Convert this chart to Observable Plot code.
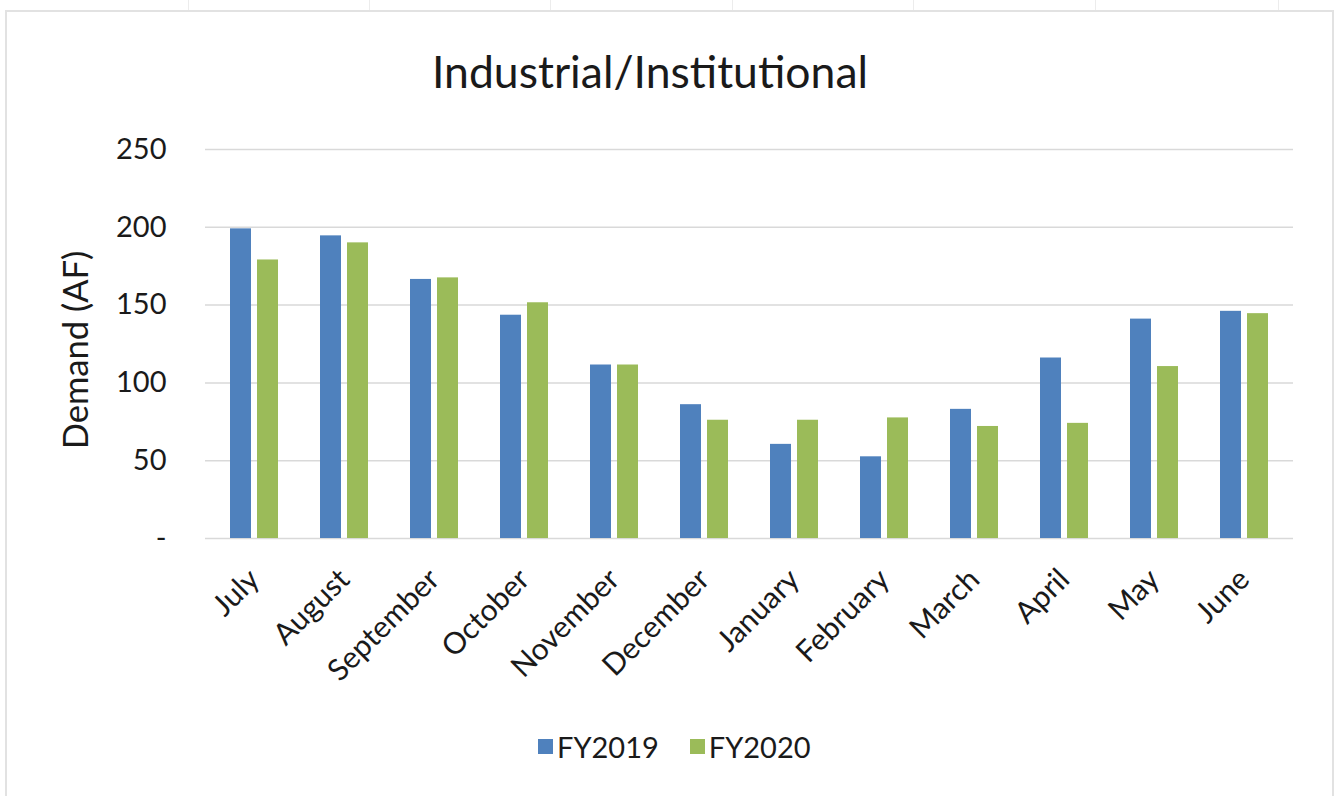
<!DOCTYPE html>
<html>
<head>
<meta charset="utf-8">
<script src="https://cdn.jsdelivr.net/npm/d3@7"></script>
<script src="https://cdn.jsdelivr.net/npm/@observablehq/plot@0.6"></script>
<style>
  html, body { margin: 0; padding: 0; background: #fff; }
  #wrap { position: relative; width: 1338px; height: 796px; overflow: hidden; font-family: Lato, "Open Sans", sans-serif; color: #1a1a1a; }
  #frame { position: absolute; left: 5px; top: 10px; width: 1325px; height: 800px; border: 2px solid #e2e2e2; border-bottom: none; }
  .cell { position: absolute; top: 0; width: 1px; height: 10px; background: #ececec; }
  #title { position: absolute; left: 0; top: 48px; width: 1300px; text-align: center; font-size: 44.5px; line-height: 45px; }
  #chart { position: absolute; left: 0; top: 110px; }
  #legend { position: absolute; left: 538px; top: 732px; display: flex; align-items: center; font-size: 29px; line-height: 29px; }
  .sw { width: 15px; height: 15px; margin-right: 4px; }
  .item { display: flex; align-items: center; margin-right: 31px; }
</style>
</head>
<body>
<div id="wrap">
  <div id="frame"></div>
  <div id="title">Industrial/Institutional</div>
  <div id="chart"></div>
  <div id="legend"></div>
</div>
<script>
const months = ["July", "August", "September", "October", "November", "December", "January", "February", "March", "April", "May", "June"];
const fy2019 = [199, 194.5, 166.5, 143.5, 111.5, 86, 60.5, 52.5, 83, 116, 141, 146];
const fy2020 = [179, 190, 167.5, 151.5, 111.5, 76, 76, 77.5, 72, 74, 110.5, 144.5];
const seriesNames = ["FY2019", "FY2020"];
const seriesColors = ["#4F81BD", "#9BBB59"];
const yTicks = [0, 50, 100, 150, 200, 250];
const cellMarks = [188, 369, 550, 732, 913, 1095, 1278];

const wrap = document.getElementById("wrap");
cellMarks.forEach(x => {
  const c = document.createElement("div");
  c.className = "cell";
  c.style.left = x + "px";
  wrap.appendChild(c);
});

const data = months.flatMap((m, i) => [
  {month: m, series: seriesNames[0], value: fy2019[i]},
  {month: m, series: seriesNames[1], value: fy2020[i]}
]);

const chart = Plot.plot({
  width: 1338,
  height: 590,
  marginLeft: 205,
  marginRight: 45,
  marginTop: 39,
  marginBottom: 162,
  style: {fontFamily: "Lato, 'Open Sans', sans-serif", background: "transparent", color: "#1a1a1a"},
  x: {domain: months, paddingInner: 0.47, paddingOuter: 0.235, label: null},
  y: {domain: [0, 250], label: null},
  color: {domain: seriesNames, range: seriesColors},
  marks: [
    Plot.ruleY(yTicks, {stroke: "#d9d9d9", strokeWidth: 1.5}),
    Plot.barY(data.filter(d => d.series === seriesNames[0]), {x: "month", y: "value", fill: "series", insetRight: 27}),
    Plot.barY(data.filter(d => d.series === seriesNames[1]), {x: "month", y: "value", fill: "series", insetLeft: 27}),
    Plot.axisY(yTicks, {tickSize: 0, tickPadding: 39, tickFormat: d => d === 0 ? "-" : String(d), fontSize: 29, color: "#1a1a1a", label: null}),
    Plot.axisX({tickSize: 0, tickRotate: -45, tickPadding: 36, fontSize: 30, color: "#1a1a1a", label: null}),
    Plot.text(["Demand (AF)"], {frameAnchor: "left", textAnchor: "middle", rotate: -90, dx: -129, dy: 6, fontSize: 34.5, fill: "#1a1a1a"})
  ]
});
document.getElementById("chart").appendChild(chart);

const legend = document.getElementById("legend");
seriesNames.forEach((s, i) => {
  const it = document.createElement("div");
  it.className = "item";
  const sw = document.createElement("div");
  sw.className = "sw";
  sw.style.background = seriesColors[i];
  const t = document.createElement("span");
  t.textContent = s;
  it.appendChild(sw);
  it.appendChild(t);
  legend.appendChild(it);
});
</script>
</body>
</html>
